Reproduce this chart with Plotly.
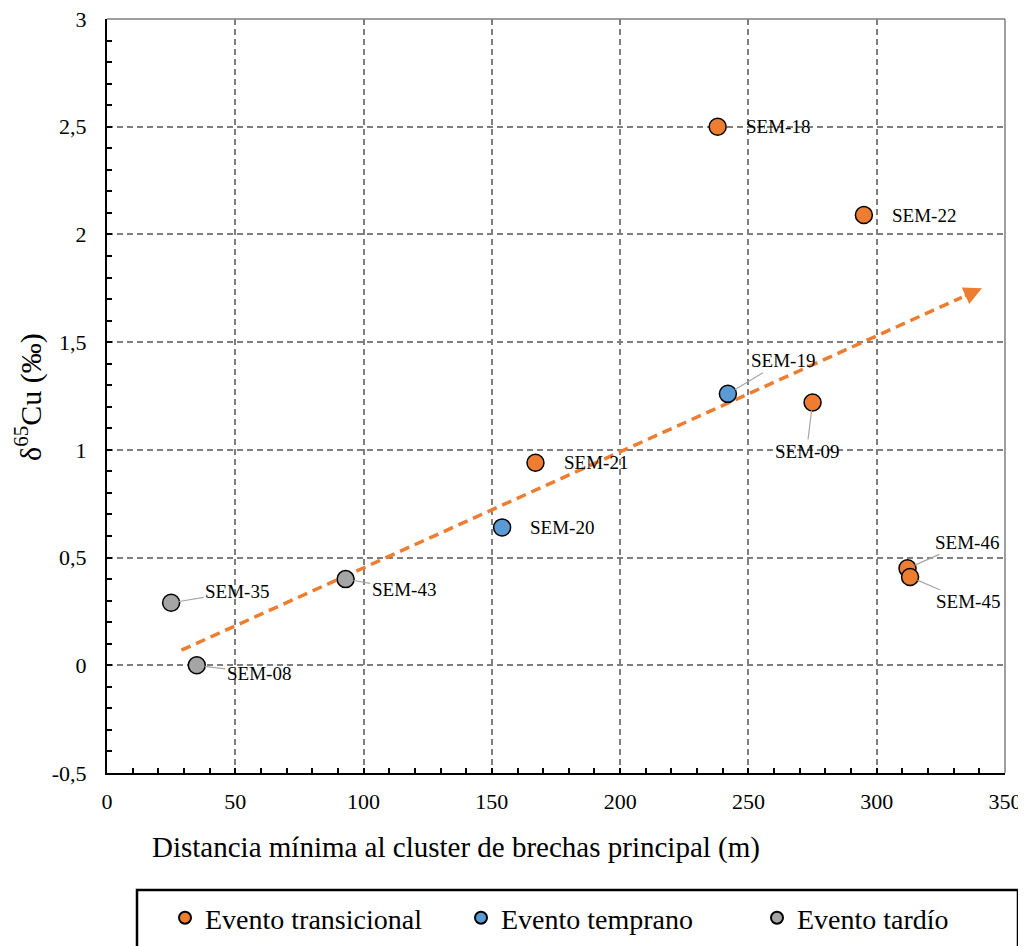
import plotly.graph_objects as go

# ---- data ----
groups = ["Evento transicional", "Evento temprano", "Evento tardío"]
colors = {"Evento transicional": "#ED7D31", "Evento temprano": "#5B9BD5", "Evento tardío": "#A5A5A5"}

trans_names = ["SEM-18", "SEM-22", "SEM-09", "SEM-21", "SEM-46", "SEM-45"]
trans_x = [238, 295, 275, 167, 312, 313]
trans_y = [2.50, 2.09, 1.22, 0.94, 0.45, 0.41]

temp_names = ["SEM-19", "SEM-20"]
temp_x = [242, 154]
temp_y = [1.26, 0.64]

tard_names = ["SEM-43", "SEM-35", "SEM-08"]
tard_x = [93, 25, 35]
tard_y = [0.40, 0.29, 0.00]

trend_x = [29, 341]
trend_y = [0.07, 1.75]

x_ticks = [0, 50, 100, 150, 200, 250, 300, 350]
y_ticks = [-0.5, 0, 0.5, 1, 1.5, 2, 2.5, 3]
y_ticktext = ["-0,5", "0", "0,5", "1", "1,5", "2", "2,5", "3"]

FONT = "Liberation Serif, Times New Roman, serif"

# page offset (body margin) and plot area in layout pixels
OFF = 8
W, H = 1026, 946
L, T = 107 - OFF, 19 - OFF
R = W - (1005 - OFF)
B = H - (773 - OFF)
PW, PH = W - L - R, H - T - B


def px_x(p):
    return (p - OFF - L) / PW


def px_y(p):
    return (H - B - (p - OFF)) / PH


fig = go.Figure()

# trend line (dashed) with arrowhead
frac = 0.975
bx = trend_x[0] + (trend_x[1] - trend_x[0]) * frac
by = trend_y[0] + (trend_y[1] - trend_y[0]) * frac
fig.add_trace(go.Scatter(x=[trend_x[0], bx], y=[trend_y[0], by], mode="lines",
                         line=dict(color="#ED7D31", width=3.5, dash="10px,6px"),
                         showlegend=False, hoverinfo="skip"))
fig.add_annotation(x=trend_x[1], y=trend_y[1], ax=bx, ay=by, axref="x", ayref="y",
                   xref="x", yref="y", showarrow=True, arrowhead=2, arrowsize=1.2,
                   arrowwidth=3, arrowcolor="#ED7D31", text=" ")

series = [("Evento transicional", trans_x, trans_y, trans_names),
          ("Evento temprano", temp_x, temp_y, temp_names),
          ("Evento tardío", tard_x, tard_y, tard_names)]
for name, xs, ys, names in series:
    fig.add_trace(go.Scatter(x=xs, y=ys, mode="markers", name=name, text=names,
                             marker=dict(size=17, color=colors[name],
                                         line=dict(color="black", width=1.5))))

# labels
label_style = {
    "SEM-18": ("right", 26, 0),
    "SEM-22": ("right", 26, 0),
    "SEM-21": ("right", 27, 0),
    "SEM-20": ("right", 26, 0),
    "SEM-35": ("lead", 66, -11),
    "SEM-08": ("lead", 62, 8),
    "SEM-19": ("lead", 55, -33),
    "SEM-09": ("lead", -6, 49),
    "SEM-46": ("lead", 59, -26),
    "SEM-45": ("lead", 58, 25),
    "SEM-43": ("lead", 58, 10),
}
for name, xs, ys, names in series:
    for xv, yv, nm in zip(xs, ys, names):
        kind, dx, dy = label_style[nm]
        if kind == "right":
            fig.add_annotation(x=xv, y=yv, text=nm, showarrow=False, xanchor="left",
                               xshift=dx, yshift=-dy,
                               font=dict(family=FONT, size=19, color="black"))
        else:
            fig.add_annotation(x=xv, y=yv, text=nm, showarrow=True, arrowhead=0,
                               arrowwidth=1.2, arrowcolor="#A6A6A6", ax=dx, ay=dy,
                               standoff=8, font=dict(family=FONT, size=19, color="black"))

# top and right border in gray
fig.add_shape(type="line", xref="paper", yref="paper", x0=0, x1=1, y0=1, y1=1,
              line=dict(color="#7F7F7F", width=1.5))
fig.add_shape(type="line", xref="paper", yref="paper", x0=1, x1=1, y0=0, y1=1,
              line=dict(color="#7F7F7F", width=1.5))

# legend frame
fig.add_shape(type="rect", xref="paper", yref="paper",
              x0=px_x(137), x1=px_x(1018), y0=px_y(965), y1=px_y(890),
              line=dict(color="black", width=2.5), fillcolor="rgba(0,0,0,0)")

fig.update_layout(
    width=W, height=H,
    margin=dict(l=L, r=R, t=T, b=B, autoexpand=False),
    paper_bgcolor="white", plot_bgcolor="white",
    font=dict(family=FONT, color="black"),
    showlegend=True,
    legend=dict(orientation="h", x=px_x(165), xanchor="left", y=px_y(893), yanchor="top",
                borderwidth=0, bgcolor="rgba(0,0,0,0)", font=dict(family=FONT, size=28),
                itemsizing="constant", entrywidth=251, itemwidth=30),
    xaxis=dict(range=[0, 350], tickvals=x_ticks, showgrid=True, gridcolor="#7F7F7F",
               gridwidth=1.5, griddash="6px,4px", zeroline=False,
               showline=True, linecolor="black", linewidth=2,
               ticks="inside", ticklen=5, tickcolor="black", tickwidth=1.5,
               minor=dict(dtick=10, ticks="inside", ticklen=5, tickcolor="black",
                          tickwidth=1.5, showgrid=False),
               tickfont=dict(family=FONT, size=22), ticklabelstandoff=8,
               ticklabeloverflow="allow"),
    yaxis=dict(range=[-0.5, 3], tickvals=y_ticks, ticktext=y_ticktext, showgrid=True,
               gridcolor="#7F7F7F", gridwidth=1.5, griddash="6px,4px", zeroline=False,
               showline=True, linecolor="black", linewidth=2,
               ticks="inside", ticklen=5, tickcolor="black", tickwidth=1.5,
               minor=dict(dtick=0.1, ticks="inside", ticklen=5, tickcolor="black",
                          tickwidth=1.5, showgrid=False),
               tickfont=dict(family=FONT, size=22), ticklabelstandoff=14,
               ticklabeloverflow="allow"),
)

fig.add_annotation(text="Distancia mínima al cluster de brechas principal (m)",
                   xref="paper", yref="paper", x=px_x(456), y=px_y(847),
                   xanchor="center", yanchor="middle", showarrow=False,
                   font=dict(family=FONT, size=29))
fig.add_annotation(text="δ<sup>65</sup>Cu (‰)", xref="paper", yref="paper",
                   x=px_x(28), y=px_y(397), textangle=-90,
                   xanchor="center", yanchor="middle", showarrow=False,
                   font=dict(family=FONT, size=30))

fig.write_html("out.html")
